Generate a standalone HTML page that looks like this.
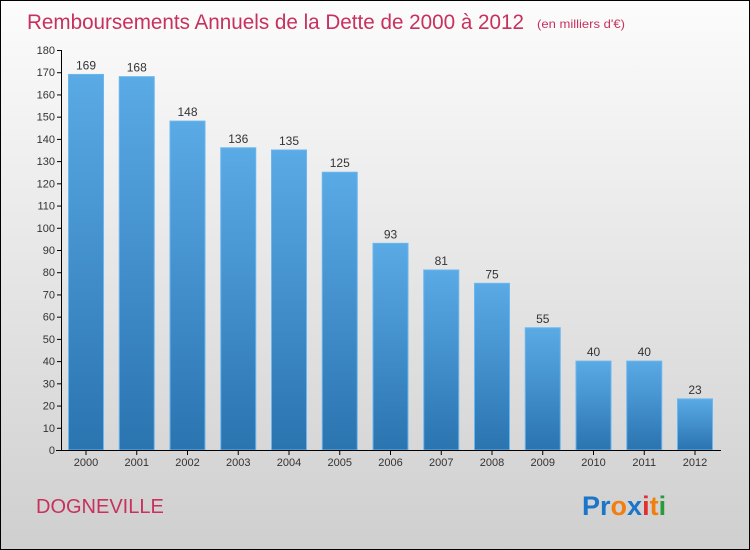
<!DOCTYPE html>
<html><head><meta charset="utf-8"><style>
body{margin:0;width:750px;height:550px;overflow:hidden}
svg{display:block}
text{font-family:"Liberation Sans",sans-serif}
</style></head><body>
<svg id="chart" width="750" height="550">
<defs>
<linearGradient id="bg" x1="0" y1="0" x2="0" y2="1"><stop offset="0" stop-color="#fcfcfc"/><stop offset="1" stop-color="#cfcfcf"/></linearGradient>
<linearGradient id="bar" x1="0" y1="0" x2="0" y2="1"><stop offset="0" stop-color="#5aaae6"/><stop offset="1" stop-color="#2a74b0"/></linearGradient>
</defs>
<rect x="0.5" y="0.5" width="749" height="549" fill="url(#bg)" stroke="#000"/>
<text x="27" y="29" font-size="21" fill="#c8305f" textLength="497" lengthAdjust="spacingAndGlyphs">Remboursements Annuels de la Dette de 2000 à 2012</text>
<text x="537" y="28" font-size="12" fill="#c8305f" textLength="88" lengthAdjust="spacingAndGlyphs">(en milliers d'€)</text>
<g id="yaxis"></g><g id="bars"></g><g id="xaxis"></g>
<line x1="61.5" y1="50" x2="61.5" y2="450" stroke="#000"/>
<line x1="56" y1="450.5" x2="721" y2="450.5" stroke="#000"/>
<text x="36" y="513" font-size="20" fill="#c8305f">DOGNEVILLE</text>
<text x="582" y="515" font-size="27" font-weight="bold"><tspan fill="#1b75c9">Pr</tspan><tspan fill="#f07f10">o</tspan><tspan fill="#1b75c9">x</tspan><tspan fill="#e03030">i</tspan><tspan fill="#f07f10">t</tspan><tspan fill="#2a9a3a">i</tspan></text>
</svg>
<script>
const categories=["2000","2001","2002","2003","2004","2005","2006","2007","2008","2009","2010","2011","2012"];
const values=[169,168,148,136,135,125,93,81,75,55,40,40,23];
const yTicks=[0,10,20,30,40,50,60,70,80,90,100,110,120,130,140,150,160,170,180];
const NS="http://www.w3.org/2000/svg";
const y=v=>450-v*400/180;
const x=i=>86+i*50.75;
function mk(t,a,p){const e=document.createElementNS(NS,t);for(const k in a)e.setAttribute(k,a[k]);p.appendChild(e);return e;}
const ya=document.getElementById('yaxis'),bg=document.getElementById('bars'),xa=document.getElementById('xaxis');
yTicks.forEach(v=>{
 const l=mk('line',{x1:57,x2:62,y1:y(v)+0.5,y2:y(v)+0.5,stroke:'#000'},ya);
 
 
 const t=mk('text',{x:55,y:y(v)+4,'text-anchor':'end','font-size':11,fill:'#333'},ya);
 t.textContent=v;
 
 
});
categories.forEach((c,i)=>{
 const v=values[i];
 const r=mk('rect',{x:x(i)-17.5,y:y(v),width:35,height:450-y(v),fill:'url(#bar)',stroke:'#6ab6ee','stroke-width':1},bg);
 
 
 const t=mk('text',{x:x(i),y:y(v)-5,'text-anchor':'middle','font-size':12,fill:'#333'},bg);
 t.textContent=v;
 
 
 const tk=mk('line',{x1:x(i),x2:x(i),y1:450,y2:455,stroke:'#000'},xa);
 
 
 const xl=mk('text',{x:x(i),y:466,'text-anchor':'middle','font-size':11,fill:'#333'},xa);
 xl.textContent=c;
 
 
});
</script>
</body></html>
